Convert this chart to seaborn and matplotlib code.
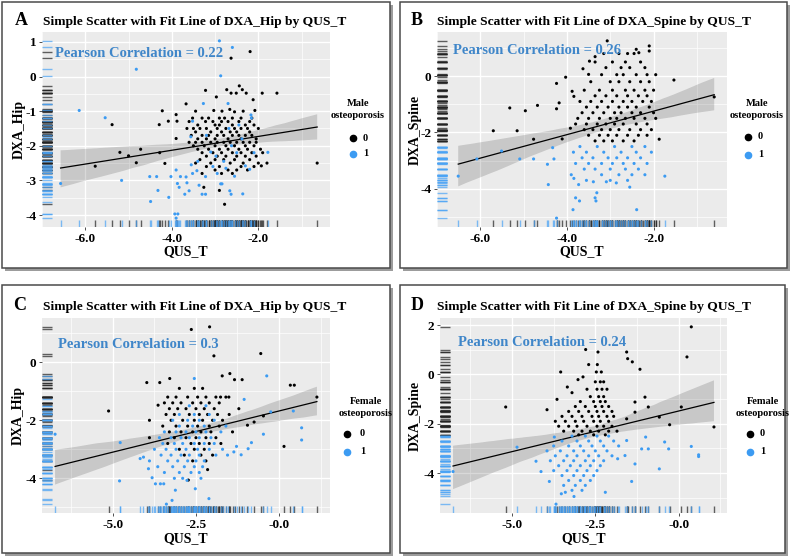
import pandas as pd
import matplotlib
matplotlib.use("Agg")
import matplotlib.pyplot as plt
import seaborn as sns
from matplotlib.lines import Line2D
from matplotlib.patches import Rectangle

plt.rcParams["font.family"] = ["Liberation Serif", "DejaVu Serif"]
plt.rcParams["font.weight"] = "bold"
plt.rcParams["axes.labelweight"] = "bold"

# ---- values: (QUS_T, DXA T-score) ----
# A: male, DXA_Hip, osteoporosis = 0
hip_m_0 = [
    (-2.19, 0.72), (-2.63, 0.53), (-3.22, -0.40), (-2.73, -0.38), (-2.44, -0.27),
    (-2.37, -0.38), (-2.97, -0.59), (-2.63, -0.48), (-2.51, -0.48), (-2.28, -0.48),
    (-1.91, -0.48), (-1.57, -0.48), (-2.12, -0.67), (-3.67, -0.79), (-4.22, -0.99),
    (-5.38, -1.39), (-5.20, -2.19), (-5.00, -2.29), (-4.72, -2.10), (-4.82, -2.49),
    (-5.77, -2.59), (-4.28, -2.20), (-4.16, -2.51), (-4.29, -1.39), (-4.08, -1.29),
    (-3.90, -1.10), (-3.88, -1.29), (-3.90, -1.79), (-0.64, -2.50), (-1.93, -2.58),
    (-2.78, -3.69), (-3.26, -3.20), (-2.90, -3.29),
    (-3.45, -1.0), (-3.03, -0.98), (-2.84, -1.0), (-2.66, -0.95), (-2.55, -1.02), (-2.35, -1.0), (-2.08, -0.98),
    (-3.52, -1.2), (-3.30, -1.2), (-3.15, -1.2), (-2.90, -1.2), (-2.78, -1.2), (-2.60, -1.2), (-2.40, -1.2), (-2.15, -1.2),
    (-3.60, -1.3), (-3.22, -1.3), (-3.05, -1.3), (-2.85, -1.3), (-2.70, -1.3), (-2.45, -1.3), (-2.20, -1.3),
    (-3.40, -1.4), (-3.00, -1.4), (-2.90, -1.4), (-2.60, -1.4), (-2.30, -1.4), (-2.10, -1.4),
    (-3.65, -1.5), (-3.50, -1.5), (-3.35, -1.5), (-3.20, -1.5), (-2.95, -1.5), (-2.75, -1.5), (-2.55, -1.5),
    (-2.40, -1.5), (-2.25, -1.5), (-2.00, -1.5),
    (-3.45, -1.6), (-3.10, -1.6), (-2.85, -1.6), (-2.65, -1.6), (-2.50, -1.6), (-2.20, -1.6),
    (-3.55, -1.7), (-3.30, -1.7), (-3.15, -1.7), (-2.95, -1.7), (-2.80, -1.7), (-2.60, -1.7), (-2.45, -1.7),
    (-2.30, -1.7), (-2.15, -1.7),
    (-3.40, -1.8), (-3.20, -1.8), (-3.00, -1.8), (-2.70, -1.8), (-2.40, -1.8), (-2.05, -1.8),
    (-3.60, -1.9), (-3.45, -1.9), (-3.30, -1.9), (-3.10, -1.9), (-2.95, -1.9), (-2.80, -1.9), (-2.65, -1.9),
    (-2.50, -1.9), (-2.35, -1.9), (-2.20, -1.9), (-2.05, -1.9),
    (-3.50, -2.0), (-3.25, -2.0), (-3.00, -2.0), (-2.75, -2.0), (-2.55, -2.0), (-2.30, -2.0), (-2.10, -2.0),
    (-3.40, -2.1), (-3.15, -2.1), (-2.90, -2.1), (-2.70, -2.1), (-2.45, -2.1), (-2.25, -2.1), (-1.95, -2.1),
    (-3.30, -2.2), (-3.05, -2.2), (-2.85, -2.2), (-2.60, -2.2), (-2.40, -2.2), (-2.15, -2.2), (-1.90, -2.2),
    (-3.20, -2.3), (-2.95, -2.3), (-2.75, -2.3), (-2.50, -2.3), (-2.30, -2.3), (-2.05, -2.3),
    (-3.35, -2.4), (-3.00, -2.4), (-2.80, -2.4), (-2.55, -2.4), (-2.20, -2.4),
    (-3.45, -2.5), (-3.10, -2.5), (-2.65, -2.5), (-2.35, -2.5), (-2.00, -2.5), (-1.80, -2.5),
    (-3.20, -2.6), (-2.90, -2.6), (-2.40, -2.6), (-2.10, -2.6),
    (-3.00, -2.7), (-2.70, -2.7), (-2.50, -2.7), (-2.25, -2.7),
    (-3.30, -2.8), (-2.85, -2.8), (-2.60, -2.8),
]
# A: male, DXA_Hip, osteoporosis = 1
hip_m_1 = [
    (-2.90, 1.03), (-2.60, 0.84), (-4.82, 0.21), (-2.87, 0.02), (-6.14, -0.98),
    (-5.54, -1.19), (-6.57, -3.09), (-5.16, -3.00), (-4.49, -3.61), (-4.51, -2.89),
    (-4.35, -2.89), (-4.32, -3.29), (-4.07, -3.49), (-4.02, -2.89), (-3.90, -2.70),
    (-3.87, -3.09), (-3.83, -3.20), (-3.80, -2.89), (-3.93, -3.97), (-3.86, -3.97),
    (-3.90, -4.09), (-3.67, -2.90), (-3.65, -3.07), (-3.70, -3.40), (-3.60, -3.30),
    (-3.52, -2.80), (-3.42, -2.72), (-3.37, -3.14), (-3.30, -3.40), (-3.22, -3.40),
    (-3.22, -2.89), (-2.87, -3.10), (-2.84, -3.10), (-2.66, -3.30), (-2.63, -3.40),
    (-2.36, -3.39), (-1.78, -2.19), (-2.17, -1.11), (-2.16, -1.20), (-3.27, -0.78),
    (-2.70, -0.78), (-3.52, -1.29), (-3.56, -1.74),
    (-3.20, -1.70), (-3.10, -2.18), (-2.98, -2.30), (-2.80, -2.45), (-2.68, -1.50),
    (-2.45, -1.40), (-2.38, -1.80), (-2.30, -2.58), (-2.20, -2.68), (-2.55, -2.88),
    (-2.10, -2.20), (-3.40, -2.45), (-3.05, -2.60), (-2.75, -2.65), (-2.50, -2.20),
    (-3.55, -2.55), (-2.95, -2.80), (-2.62, -2.00),
]

# B: male, DXA_Spine
spine_m_0 = [
    (-5.32, -1.13), (-4.96, -1.23), (-4.68, -1.04), (-5.70, -1.94), (-5.15, -1.94),
    (-4.77, -2.24), (-4.24, -1.16), (-4.18, -0.95), (-4.24, -0.26), (-4.03, -0.04),
    (-4.11, -2.23), (-0.60, -0.74), (-1.53, -0.14), (-1.87, -2.24), (-2.10, 1.07),
    (-2.10, 0.89), (-2.40, 0.95), (-2.34, 0.83), (-3.07, 1.25), (-3.48, 0.53),
    (-3.35, 0.69), (-3.63, 0.26), (-3.50, 0.06), (-3.88, -0.54), (-3.84, -0.72),
    (-3.92, -1.85),
    (-3.15, 0.8), (-2.80, 0.8), (-2.60, 0.8), (-2.45, 0.8),
    (-3.35, 0.5), (-2.95, 0.5), (-2.65, 0.5), (-2.30, 0.5),
    (-3.10, 0.3), (-2.75, 0.3), (-2.55, 0.3), (-2.20, 0.3),
    (-3.20, 0.05), (-2.85, 0.05), (-2.70, 0.05), (-2.40, 0.05), (-2.15, 0.05), (-1.95, 0.05),
    (-3.45, -0.2), (-3.00, -0.2), (-2.80, -0.2), (-2.55, -0.2), (-2.30, -0.2), (-2.10, -0.2),
    (-3.60, -0.5), (-3.25, -0.5), (-2.95, -0.5), (-2.65, -0.5), (-2.45, -0.5), (-2.20, -0.5), (-2.00, -0.5),
    (-3.35, -0.7), (-3.10, -0.7), (-2.85, -0.7), (-2.60, -0.7), (-2.35, -0.7), (-2.15, -0.7),
    (-3.70, -0.9), (-3.45, -0.9), (-3.20, -0.9), (-2.95, -0.9), (-2.70, -0.9), (-2.50, -0.9), (-2.25, -0.9),
    (-2.05, -0.9),
    (-3.55, -1.1), (-3.30, -1.1), (-3.05, -1.1), (-2.80, -1.1), (-2.60, -1.1), (-2.40, -1.1), (-2.10, -1.1),
    (-3.65, -1.3), (-3.40, -1.3), (-3.15, -1.3), (-2.90, -1.3), (-2.75, -1.3), (-2.50, -1.3), (-2.30, -1.3),
    (-2.00, -1.3),
    (-3.75, -1.5), (-3.50, -1.5), (-3.25, -1.5), (-3.00, -1.5), (-2.85, -1.5), (-2.65, -1.5), (-2.45, -1.5),
    (-2.20, -1.5), (-1.95, -1.5),
    (-3.80, -1.7), (-3.55, -1.7), (-3.30, -1.7), (-3.10, -1.7), (-2.90, -1.7), (-2.70, -1.7), (-2.40, -1.7),
    (-2.15, -1.7),
    (-3.60, -1.9), (-3.40, -1.9), (-3.20, -1.9), (-3.00, -1.9), (-2.80, -1.9), (-2.55, -1.9), (-2.30, -1.9),
    (-2.05, -1.9),
    (-3.50, -2.1), (-3.25, -2.1), (-3.05, -2.1), (-2.85, -2.1), (-2.60, -2.1), (-2.35, -2.1), (-2.15, -2.1),
    (-3.35, -2.3), (-3.15, -2.3), (-2.95, -2.3), (-2.70, -2.3), (-2.45, -2.3),
]
spine_m_1 = [
    (-6.51, -3.55), (-6.08, -2.94), (-5.51, -2.66), (-5.09, -2.94), (-4.77, -2.94),
    (-4.45, -3.13), (-4.30, -2.94), (-4.33, -2.54), (-4.43, -3.85), (-4.24, -5.04),
    (-3.80, -4.32), (-3.71, -4.43), (-3.86, -4.74), (-3.31, -4.14), (-3.35, -4.32),
    (-3.33, -4.43), (-2.39, -4.74), (-1.74, -3.55), (-2.55, -3.94), (-2.86, -3.79),
    (-3.09, -3.75), (-3.39, -3.75), (-3.84, -3.63), (-3.73, -3.85),
    (-3.70, -2.5), (-3.30, -2.5), (-2.90, -2.5), (-2.50, -2.5), (-2.20, -2.5),
    (-3.85, -2.7), (-3.55, -2.7), (-3.15, -2.7), (-2.75, -2.7), (-2.40, -2.7), (-2.05, -2.7),
    (-3.65, -2.9), (-3.40, -2.9), (-3.05, -2.9), (-2.85, -2.9), (-2.60, -2.9), (-2.30, -2.9),
    (-3.80, -3.1), (-3.50, -3.1), (-3.20, -3.1), (-2.95, -3.1), (-2.70, -3.1), (-2.45, -3.1), (-2.15, -3.1),
    (-3.60, -3.3), (-3.35, -3.3), (-3.00, -3.3), (-2.65, -3.3), (-2.35, -3.3),
    (-3.90, -3.5), (-3.20, -3.5), (-2.80, -3.5), (-2.50, -3.5), (-2.20, -3.5),
    (-3.55, -3.7), (-3.00, -3.7), (-2.60, -3.7),
]

# C: female, DXA_Hip
hip_f_0 = [
    (-2.64, 1.13), (-2.09, 1.22), (-1.96, 0.22), (-0.55, 0.30), (-5.13, -1.68),
    (-3.98, -0.70), (-3.59, -0.70), (-3.29, -0.56), (-1.71, -0.47), (-1.48, -0.39),
    (-1.34, -0.60), (-1.11, -0.60), (0.34, -0.79), (0.46, -0.79), (1.14, -1.20),
    (0.15, -2.90), (-3.90, -2.00), (-3.90, -2.60), (-3.64, -1.48), (-0.95, -2.17),
    (-0.75, -2.06), (-0.47, -1.85), (-1.21, -1.60), (-1.51, -1.20), (-1.76, -1.20),
    (-2.73, -4.06),
    (-3.00, -0.9), (-2.55, -0.9), (-2.30, -0.9),
    (-3.35, -1.2), (-3.10, -1.2), (-2.75, -1.2), (-2.45, -1.2), (-2.20, -1.2), (-1.90, -1.2), (-1.60, -1.2),
    (-3.45, -1.4), (-3.20, -1.4), (-2.95, -1.4), (-2.60, -1.4), (-2.35, -1.4), (-2.10, -1.4), (-1.80, -1.4),
    (-3.30, -1.6), (-3.05, -1.6), (-2.80, -1.6), (-2.50, -1.6), (-2.25, -1.6), (-1.95, -1.6),
    (-3.40, -1.8), (-3.15, -1.8), (-2.70, -1.8), (-2.40, -1.8), (-2.15, -1.8), (-1.85, -1.8), (-1.50, -1.8),
    (-3.25, -2.0), (-2.90, -2.0), (-2.55, -2.0), (-2.30, -2.0), (-2.00, -2.0), (-1.70, -2.0),
    (-3.50, -2.2), (-3.10, -2.2), (-2.75, -2.2), (-2.45, -2.2), (-2.10, -2.2), (-1.80, -2.2),
    (-3.30, -2.4), (-2.95, -2.4), (-2.60, -2.4), (-2.35, -2.4), (-2.05, -2.4), (-1.40, -2.4),
    (-3.15, -2.6), (-2.80, -2.6), (-2.50, -2.6), (-2.20, -2.6), (-1.90, -2.6),
    (-3.35, -2.8), (-2.65, -2.8), (-2.40, -2.8), (-2.10, -2.8), (-1.75, -2.8),
    (-3.00, -3.0), (-2.55, -3.0), (-2.25, -3.0),
    (-2.85, -3.2), (-2.35, -3.2), (-2.00, -3.2),
    (-2.60, -3.4), (-2.20, -3.4),
    (-2.15, -3.7),
]
hip_f_1 = [
    (-6.74, -2.48), (-4.78, -2.77), (-4.80, -4.09), (-0.37, -0.47), (0.68, -2.26),
    (0.68, -2.68), (0.43, -1.68), (-0.25, -1.71), (-0.47, -2.48), (-0.83, -2.77),
    (-0.93, -2.98), (-1.14, -3.19), (-1.28, -2.90), (-1.36, -3.09), (-1.05, -1.28),
    (-2.55, -0.56), (-2.11, -4.70), (-3.39, -4.89), (-3.22, -4.76), (-3.12, -4.41),
    (-3.72, -4.19), (-3.57, -4.19), (-3.47, -4.19), (-3.82, -3.98), (-4.18, -3.32),
    (-4.08, -3.27), (-3.93, -3.67), (-2.52, -4.36), (-2.77, -4.07),
    (-2.70, -1.5), (-2.20, -1.5),
    (-3.00, -1.8), (-2.55, -1.8), (-2.10, -1.8),
    (-3.20, -2.0), (-2.75, -2.0), (-2.40, -2.0), (-1.95, -2.0),
    (-3.00, -2.2), (-2.60, -2.2), (-2.25, -2.2), (-1.60, -2.2),
    (-3.45, -2.4), (-3.10, -2.4), (-2.80, -2.4), (-2.50, -2.4), (-2.20, -2.4), (-1.75, -2.4),
    (-3.60, -2.6), (-3.25, -2.6), (-2.95, -2.6), (-2.70, -2.6), (-2.40, -2.6), (-2.05, -2.6),
    (-3.50, -2.8), (-3.15, -2.8), (-2.90, -2.8), (-2.55, -2.8), (-2.25, -2.8), (-1.95, -2.8),
    (-3.75, -3.0), (-3.40, -3.0), (-3.10, -3.0), (-2.80, -3.0), (-2.45, -3.0), (-2.10, -3.0), (-1.70, -3.0),
    (-3.55, -3.2), (-3.25, -3.2), (-2.95, -3.2), (-2.70, -3.2), (-2.40, -3.2), (-1.90, -3.2), (-1.55, -3.2),
    (-3.90, -3.4), (-3.35, -3.4), (-3.05, -3.4), (-2.75, -3.4), (-2.50, -3.4), (-2.25, -3.4),
    (-3.65, -3.6), (-3.20, -3.6), (-2.85, -3.6), (-2.55, -3.6), (-2.30, -3.6),
    (-3.45, -3.8), (-3.00, -3.8), (-2.65, -3.8), (-2.40, -3.8),
    (-3.15, -4.0), (-2.90, -4.0), (-2.35, -4.0),
]

# D: female, DXA_Spine
spine_f_0 = [
    (0.38, 1.93), (0.25, 0.71), (-2.79, 1.01), (-2.42, 0.91), (-1.56, 0.91),
    (-1.53, 0.64), (-1.39, 0.51), (-1.16, 0.21), (-3.54, 0.10), (-5.19, -1.32),
    (-3.95, -1.43), (-3.65, -1.01), (-1.01, -0.92), (-1.31, -1.12), (-0.91, -1.32),
    (-0.58, -1.73), (-0.27, -2.04), (0.08, -1.32), (1.06, -2.13), (-3.02, -0.21),
    (-2.87, -0.10), (-3.34, -0.51), (-3.20, -0.74), (-2.70, 0.40), (-2.44, 0.40),
    (-2.47, 0.10), (-2.32, 0.10), (-1.31, -1.53), (-1.56, -1.80),
    (-2.50, -0.3), (-2.35, -0.3), (-2.25, -0.3),
    (-2.75, -0.6), (-2.45, -0.6), (-2.30, -0.6), (-2.15, -0.6),
    (-2.65, -0.9), (-2.40, -0.9), (-2.25, -0.9),
    (-2.95, -1.1), (-2.55, -1.1), (-2.35, -1.1), (-2.20, -1.1),
    (-3.10, -1.3), (-2.80, -1.3), (-2.50, -1.3), (-2.30, -1.3), (-2.10, -1.3),
    (-3.30, -1.5), (-3.00, -1.5), (-2.70, -1.5), (-2.45, -1.5), (-2.25, -1.5), (-2.00, -1.5),
    (-3.50, -1.7), (-3.20, -1.7), (-2.90, -1.7), (-2.60, -1.7), (-2.40, -1.7), (-2.15, -1.7), (-1.95, -1.7),
    (-3.70, -1.9), (-3.40, -1.9), (-3.10, -1.9), (-2.85, -1.9), (-2.55, -1.9), (-2.35, -1.9), (-2.10, -1.9),
    (-3.60, -2.1), (-3.30, -2.1), (-3.05, -2.1), (-2.75, -2.1), (-2.45, -2.1), (-2.25, -2.1), (-2.00, -2.1),
    (-3.45, -2.3), (-3.15, -2.3), (-2.90, -2.3), (-2.65, -2.3), (-2.40, -2.3), (-2.10, -2.3), (-1.85, -2.3),
    (-3.00, -2.45), (-2.55, -2.45), (-2.20, -2.45),
]
spine_f_1 = [
    (-6.77, -3.94), (-4.85, -2.95), (-3.73, -2.54), (-3.68, -5.26), (-3.52, -4.84),
    (-3.40, -4.78), (-3.14, -4.95), (-2.20, -4.78), (-1.41, -4.34), (-0.58, -3.83),
    (-0.30, -3.02), (-0.42, -2.74), (0.38, -2.92), (0.60, -3.26), (0.60, -3.33),
    (-0.91, -3.02), (-1.11, -3.02), (-0.99, -2.54), (-1.31, -3.63), (-1.56, -2.68),
    (-1.61, -3.29), (-1.83, -3.42), (-4.28, -3.52), (-4.13, -3.94), (-3.88, -4.34),
    (-3.20, -2.5), (-2.80, -2.5), (-2.45, -2.5), (-2.10, -2.5),
    (-3.50, -2.7), (-3.05, -2.7), (-2.70, -2.7), (-2.35, -2.7), (-1.95, -2.7),
    (-3.75, -2.9), (-3.30, -2.9), (-2.95, -2.9), (-2.60, -2.9), (-2.25, -2.9), (-1.80, -2.9),
    (-3.95, -3.1), (-3.55, -3.1), (-3.15, -3.1), (-2.85, -3.1), (-2.50, -3.1), (-2.15, -3.1),
    (-3.70, -3.3), (-3.35, -3.3), (-3.05, -3.3), (-2.70, -3.3), (-2.40, -3.3), (-2.00, -3.3),
    (-3.85, -3.5), (-3.45, -3.5), (-3.15, -3.5), (-2.80, -3.5), (-2.55, -3.5), (-2.25, -3.5),
    (-3.60, -3.7), (-3.25, -3.7), (-2.95, -3.7), (-2.65, -3.7), (-2.35, -3.7),
    (-3.75, -3.9), (-3.35, -3.9), (-3.05, -3.9), (-2.75, -3.9), (-2.45, -3.9),
    (-3.50, -4.1), (-3.15, -4.1), (-2.85, -4.1), (-2.55, -4.1),
    (-3.30, -4.3), (-2.95, -4.3), (-2.65, -4.3),
    (-3.45, -4.5), (-3.10, -4.5), (-2.80, -4.5),
    (-3.20, -4.7), (-2.90, -4.7),
]

pearson_r = ["0.22", "0.26", "0.3", "0.24"]
x_ticks_male = [-6, -4, -2]
x_labels_male = ["-6.0", "-4.0", "-2.0"]
x_ticks_female = [-5, -2.5, 0]
x_labels_female = ["-5.0", "-2.5", "-0.0"]

BLUE = "#3C9BF2"
TXT_BLUE = "#3F86C9"
W, H = 793, 559


def fx(px):
    return px / W


def fy(py):
    return 1 - py / H


def frame(pts0, pts1, yname):
    d0 = pd.DataFrame(pts0, columns=["QUS_T", yname]).assign(osteoporosis=0)
    d1 = pd.DataFrame(pts1, columns=["QUS_T", yname]).assign(osteoporosis=1)
    return pd.concat([d0, d1], ignore_index=True)


panels = [
    dict(letter="A", yname="DXA_Hip", sex="Male", df=frame(hip_m_0, hip_m_1, "DXA_Hip"), r=pearson_r[0],
         box=(2, 2, 390, 268), ax=(42, 32, 330, 227), xt=x_ticks_male, xtl=x_labels_male,
         xminor=[-7, -5, -3, -1], yt=[1, 0, -1, -2, -3, -4], ytl=["1", "0", "-1", "-2", "-3", "-4"],
         yminor=[0.5, -0.5, -1.5, -2.5, -3.5], letter_xy=(15, 25), title_xy=(43, 25),
         ylab_x=19, xlab_y=252, pear_xy=(55, 57), leg_x=358, leg_y=(103, 115), key_x=352.5,
         key_y=(138, 154), key_lab_x=363),
    dict(letter="B", yname="DXA_Spine", sex="Male", df=frame(spine_m_0, spine_m_1, "DXA_Spine"), r=pearson_r[1],
         box=(400, 2, 787, 268), ax=(437, 32, 727, 227), xt=x_ticks_male, xtl=x_labels_male,
         xminor=[-7, -5, -3, -1], yt=[0, -2, -4], ytl=["0", "-2", "-4"],
         yminor=[1, -1, -3, -5], letter_xy=(411, 25), title_xy=(437, 25),
         ylab_x=415, xlab_y=252, pear_xy=(453, 54), leg_x=757, leg_y=(103, 115), key_x=748,
         key_y=(137, 155), key_lab_x=758),
    dict(letter="C", yname="DXA_Hip", sex="Female", df=frame(hip_f_0, hip_f_1, "DXA_Hip"), r=pearson_r[2],
         box=(2, 285, 390, 553), ax=(42, 318, 330, 513), xt=x_ticks_female, xtl=x_labels_female,
         xminor=[-6.25, -3.75, -1.25, 1.25], yt=[0, -2, -4], ytl=["0", "-2", "-4"],
         yminor=[1, -1, -3, -5], letter_xy=(13, 310), title_xy=(43, 310),
         ylab_x=18, xlab_y=539, pear_xy=(58, 348), leg_x=366, leg_y=(401, 413), key_x=347,
         key_y=(434, 452), key_lab_x=360),
    dict(letter="D", yname="DXA_Spine", sex="Female", df=frame(spine_f_0, spine_f_1, "DXA_Spine"), r=pearson_r[3],
         box=(400, 285, 785, 553), ax=(440, 318, 727, 513), xt=x_ticks_female, xtl=x_labels_female,
         xminor=[-6.25, -3.75, -1.25, 1.25], yt=[2, 0, -2, -4], ytl=["2", "0", "-2", "-4"],
         yminor=[1, -1, -3, -5], letter_xy=(411, 310), title_xy=(437, 310),
         ylab_x=415, xlab_y=539, pear_xy=(458, 346), leg_x=763, leg_y=(401, 413), key_x=750,
         key_y=(434, 452), key_lab_x=760),
]

fig = plt.figure(figsize=(W / 100, H / 100), dpi=100)
fig.patch.set_facecolor("white")
pal = {0: "black", 1: BLUE}
rug_pal = {0: "#222222", 1: "#4AA3F5"}

for p in panels:
    bx0, by0, bx1, by1 = p["box"]
    fig.add_artist(Rectangle((fx(bx0 + 2.5), fy(by1 + 2.5)), (bx1 - bx0) / W, (by1 - by0) / H,
                             transform=fig.transFigure, facecolor="#9c9c9c", edgecolor="none", zorder=-3))
    fig.add_artist(Rectangle((fx(bx0), fy(by1)), (bx1 - bx0) / W, (by1 - by0) / H,
                             transform=fig.transFigure, facecolor="white", edgecolor="#4a4a4a",
                             linewidth=1.1, zorder=-2))

    x0, y0, x1, y1 = p["ax"]
    ax = fig.add_axes([fx(x0), fy(y1), (x1 - x0) / W, (y1 - y0) / H])
    ax.set_facecolor("#EBEBEB")
    for s in ax.spines.values():
        s.set_visible(False)

    df = p["df"]
    yname = p["yname"]
    sns.regplot(data=df, x="QUS_T", y=yname, scatter=False, color="black", ci=95, seed=7,
                line_kws=dict(lw=0.9), ax=ax)
    sns.scatterplot(data=df, x="QUS_T", y=yname, hue="osteoporosis", palette=pal, s=5,
                    linewidth=0, legend=False, ax=ax, zorder=3)
    sns.rugplot(data=df, x="QUS_T", hue="osteoporosis", palette=rug_pal, height=0.035,
                lw=0.8, alpha=0.7, legend=False, ax=ax)
    sns.rugplot(data=df, y=yname, hue="osteoporosis", palette=rug_pal, height=0.035,
                lw=0.8, alpha=0.7, legend=False, ax=ax)

    xr = df["QUS_T"].max() - df["QUS_T"].min()
    yr = df[yname].max() - df[yname].min()
    ax.set_xlim(df["QUS_T"].min() - 0.05 * xr, df["QUS_T"].max() + 0.05 * xr)
    ax.set_ylim(df[yname].min() - 0.05 * yr, df[yname].max() + 0.05 * yr)

    ax.set_xticks(p["xt"])
    ax.set_xticklabels(p["xtl"])
    ax.set_xticks(p["xminor"], minor=True)
    ax.set_yticks(p["yt"])
    ax.set_yticklabels(p["ytl"])
    ax.set_yticks(p["yminor"], minor=True)
    ax.grid(which="major", color="white", lw=1.0)
    ax.grid(which="minor", color="white", lw=0.5)
    ax.set_axisbelow(True)
    ax.tick_params(which="major", length=2.5, width=0.6, color="#333333", labelsize=9.5, pad=1.5)
    ax.tick_params(which="minor", length=0)

    ax.set_xlabel("QUS_T", fontsize=10, va="center")
    ax.xaxis.set_label_coords(fx((x0 + x1) / 2), fy(p["xlab_y"]), transform=fig.transFigure)
    ax.set_ylabel(yname, fontsize=10, va="center")
    ax.yaxis.set_label_coords(fx(p["ylab_x"]), fy((y0 + y1) / 2), transform=fig.transFigure)

    fig.text(fx(p["letter_xy"][0]), fy(p["letter_xy"][1]), p["letter"], fontsize=13,
             ha="left", va="baseline")
    fig.text(fx(p["title_xy"][0]), fy(p["title_xy"][1]),
             f"Simple Scatter with Fit Line of {yname} by QUS_T", fontsize=9.7, ha="left", va="baseline")
    fig.text(fx(p["pear_xy"][0]), fy(p["pear_xy"][1]), f"Pearson Correlation = {p['r']}",
             fontsize=10.5, color=TXT_BLUE, ha="left", va="baseline")

    # legend
    fig.text(fx(p["leg_x"]), fy(p["leg_y"][0]), p["sex"], fontsize=7.5, ha="center", va="center")
    fig.text(fx(p["leg_x"]), fy(p["leg_y"][1]), "osteoporosis", fontsize=7.5, ha="center", va="center")
    for g, ky in zip([0, 1], p["key_y"]):
        fig.add_artist(Line2D([fx(p["key_x"])], [fy(ky)], marker="o", ls="", color=pal[g],
                              markersize=4.5, transform=fig.transFigure))
        fig.text(fx(p["key_lab_x"]), fy(ky), str(g), fontsize=7.5, ha="left", va="center")

fig.savefig("out.png", dpi=100)
